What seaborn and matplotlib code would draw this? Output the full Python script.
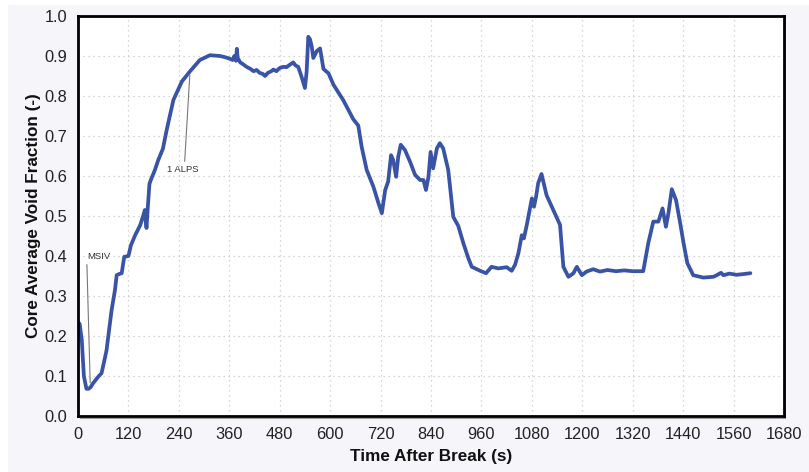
import matplotlib
matplotlib.use("Agg")
import matplotlib.pyplot as plt
import seaborn as sns
import pandas as pd
from matplotlib.patches import Rectangle

time_s = [0, 4, 9, 14, 20, 25, 30, 36, 42, 48, 56, 62, 68, 74, 80, 88, 92, 98, 104, 110,
          120, 126, 136, 148, 155, 159, 161, 163, 166, 170, 174, 183, 191, 202, 211, 227,
          247, 266, 290, 314, 338, 350, 362, 368, 372, 376, 378, 380, 386, 392, 401, 410,
          418, 425, 432, 440, 445, 452, 460, 465, 472, 480, 489, 496, 504, 512, 518, 524,
          532, 540, 544, 548, 552, 556, 560, 568, 576, 584, 590, 596, 608, 619, 631, 645,
          655, 667, 675, 687, 703, 715, 723, 731, 738, 745, 750, 757, 762, 768, 778, 790,
          802, 814, 822, 828, 834, 839, 845, 854, 861, 869, 881, 893, 905, 917, 929, 937,
          957, 971, 984, 1000, 1020, 1032, 1040, 1048, 1056, 1061, 1068, 1080, 1085, 1090,
          1095, 1103, 1115, 1131, 1147, 1155, 1167, 1179, 1187, 1199, 1210, 1226, 1242,
          1260, 1280, 1300, 1320, 1345, 1357, 1369, 1381, 1391, 1399, 1405, 1413, 1423,
          1433, 1441, 1450, 1464, 1488, 1512, 1520, 1530, 1536, 1550, 1567, 1585, 1600]

void_fraction = [0.235, 0.23, 0.19, 0.10, 0.068, 0.068, 0.072, 0.082, 0.090, 0.098, 0.107,
                 0.135, 0.165, 0.215, 0.265, 0.315, 0.352, 0.355, 0.357, 0.398, 0.400, 0.427,
                 0.452, 0.477, 0.500, 0.515, 0.490, 0.470, 0.520, 0.580, 0.592, 0.615, 0.640,
                 0.668, 0.715, 0.790, 0.836, 0.861, 0.890, 0.902, 0.900, 0.897, 0.893, 0.890,
                 0.900, 0.888, 0.918, 0.895, 0.884, 0.880, 0.873, 0.868, 0.862, 0.865, 0.858,
                 0.855, 0.850, 0.858, 0.862, 0.866, 0.862, 0.870, 0.873, 0.872, 0.878, 0.884,
                 0.876, 0.873, 0.848, 0.820, 0.860, 0.948, 0.942, 0.925, 0.895, 0.912, 0.919,
                 0.868, 0.862, 0.857, 0.828, 0.810, 0.790, 0.762, 0.742, 0.726, 0.673, 0.615,
                 0.573, 0.532, 0.507, 0.565, 0.586, 0.652, 0.640, 0.598, 0.648, 0.678, 0.665,
                 0.636, 0.603, 0.590, 0.590, 0.565, 0.598, 0.660, 0.619, 0.669, 0.682, 0.669,
                 0.615, 0.498, 0.475, 0.432, 0.394, 0.373, 0.363, 0.357, 0.373, 0.369, 0.372,
                 0.363, 0.378, 0.407, 0.452, 0.444, 0.478, 0.544, 0.523, 0.548, 0.582, 0.605,
                 0.552, 0.515, 0.478, 0.373, 0.348, 0.357, 0.373, 0.352, 0.361, 0.367, 0.361,
                 0.365, 0.362, 0.364, 0.362, 0.362, 0.432, 0.486, 0.486, 0.519, 0.473, 0.507,
                 0.567, 0.540, 0.482, 0.432, 0.382, 0.352, 0.346, 0.348, 0.352, 0.358, 0.352,
                 0.356, 0.353, 0.355, 0.357]

x_ticks = [0, 120, 240, 360, 480, 600, 720, 840, 960, 1080, 1200, 1320, 1440, 1560, 1680]
y_ticks = [0.0, 0.1, 0.2, 0.3, 0.4, 0.5, 0.6, 0.7, 0.8, 0.9, 1.0]

sns.set_style("white")
plt.rcParams["font.family"] = ["Liberation Sans", "DejaVu Sans"]

df = pd.DataFrame({"t": time_s, "v": void_fraction})

fig = plt.figure(figsize=(8.09, 4.72), dpi=100)
fig.patch.set_facecolor("white")
bg = Rectangle((8 / 809, 0), 1, 1 - 5 / 472, transform=fig.transFigure,
               facecolor="#f5f5fa", edgecolor="none", zorder=-10)
fig.add_artist(bg)
ax = fig.add_axes([78 / 809, 56 / 472, 706 / 809, 400 / 472])
ax.set_facecolor("white")

sns.lineplot(data=df, x="t", y="v", ax=ax, color="#3953a6", linewidth=2.7, zorder=3)

ax.set_xlim(0, 1680)
ax.set_ylim(0, 1.0)
ax.set_xticks(x_ticks)
ax.set_xticklabels([str(v) for v in x_ticks])
ax.set_yticks(y_ticks)
ax.set_yticklabels([f"{v:.1f}" for v in y_ticks])
ax.tick_params(axis="both", labelsize=11.8, colors="#222222", length=0)
ax.tick_params(axis="x", pad=8)
ax.tick_params(axis="y", pad=8)
ax.grid(True, color="#c8c8c8", linestyle=(0, (1, 3)), linewidth=0.9)

ax.set_xlabel("Time After Break (s)", fontsize=12.3, fontweight="bold", color="#111111", labelpad=5)
ax.set_ylabel("Core Average Void Fraction (-)", fontsize=12.3, fontweight="bold", color="#111111", labelpad=2)

for s in ax.spines.values():
    s.set_linewidth(2.0)
    s.set_color("black")
    s.set_zorder(5)
# frame shadow
ax.add_patch(Rectangle((1.0, -0.006), 0.003, 1.0, transform=ax.transAxes, clip_on=False,
                       facecolor="#9a9a9a", edgecolor="none", zorder=4))
ax.add_patch(Rectangle((0.003, -0.008), 1.0, 0.004, transform=ax.transAxes, clip_on=False,
                       facecolor="#9a9a9a", edgecolor="none", zorder=4))

ax.annotate("MSIV", xy=(29, 0.083), xytext=(21, 0.398), fontsize=6.8, color="#333333",
            va="center", ha="left",
            arrowprops=dict(arrowstyle="-", color="#777777", lw=0.8, shrinkA=0, shrinkB=0,
                            relpos=(0.0, 0.0)))
ax.annotate("1 ALPS", xy=(266, 0.852), xytext=(212, 0.617), fontsize=6.8, color="#333333",
            va="center", ha="left",
            arrowprops=dict(arrowstyle="-", color="#777777", lw=0.8, shrinkA=0, shrinkB=0,
                            relpos=(0.55, 1.0)))

fig.savefig("out.png", dpi=100, facecolor=fig.get_facecolor())
